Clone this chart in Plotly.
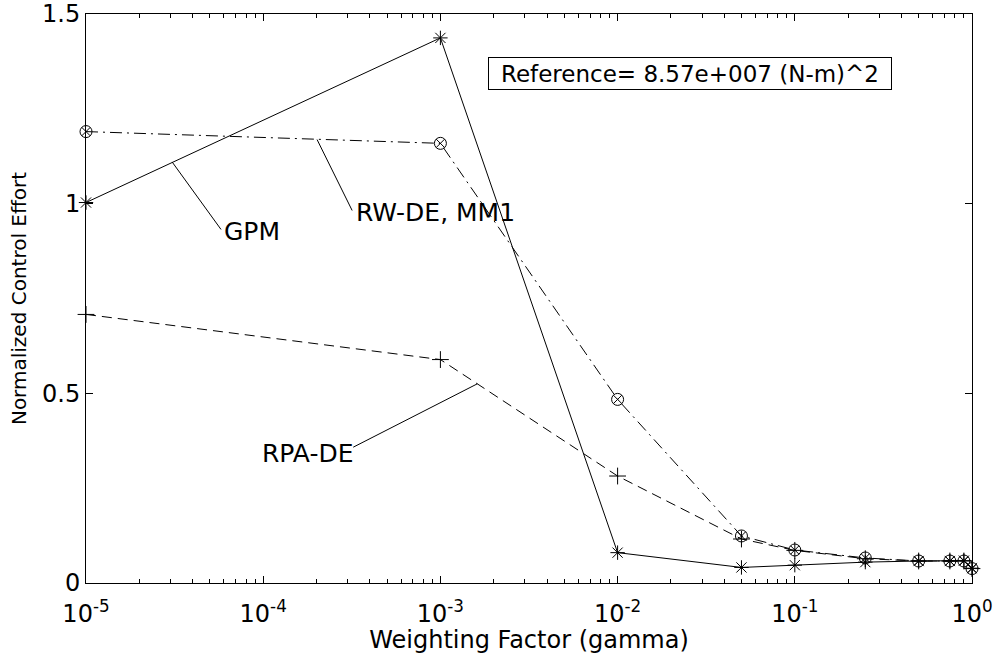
import plotly.graph_objects as go

# Weighting factor (gamma) values shared by all three methods
gamma = [1e-5, 1e-3, 1e-2, 0.05, 0.1, 0.25, 0.5, 0.75, 0.9, 1.0]

# Normalized control effort for each method
gpm = [1.003, 1.437, 0.080, 0.041, 0.047, 0.055, 0.058, 0.058, 0.059, 0.039]
rw_de_mm1 = [1.190, 1.159, 0.484, 0.124, 0.087, 0.066, 0.058, 0.058, 0.058, 0.038]
rpa_de = [0.708, 0.589, 0.282, 0.116, 0.086, 0.064, 0.058, 0.058, 0.058, 0.038]

x_tick_vals = [1e-5, 1e-4, 1e-3, 1e-2, 1e-1, 1e0]
x_tick_text = ["10<sup>-5</sup>", "10<sup>-4</sup>", "10<sup>-3</sup>",
               "10<sup>-2</sup>", "10<sup>-1</sup>", "10<sup>0</sup>"]
y_tick_vals = [0, 0.5, 1, 1.5]
y_tick_text = ["0", "0.5", "1", "1.5"]

reference_text = "Reference= 8.57e+007 (N-m)^2"

FONT = "DejaVu Sans"
BLACK = "black"

fig = go.Figure()

fig.add_trace(go.Scatter(
    x=gamma, y=gpm, name="GPM", mode="lines+markers",
    line=dict(color=BLACK, width=1),
    marker=dict(symbol="asterisk-open", size=12, color=BLACK,
                line=dict(color=BLACK, width=1)),
    cliponaxis=False,
))
fig.add_trace(go.Scatter(
    x=gamma, y=rw_de_mm1, name="RW-DE, MM1", mode="lines+markers",
    line=dict(color=BLACK, width=1, dash="12px,5px,2px,5px"),
    marker=dict(symbol="circle-x-open", size=12, color=BLACK,
                line=dict(color=BLACK, width=1)),
    cliponaxis=False,
))
fig.add_trace(go.Scatter(
    x=gamma, y=rpa_de, name="RPA-DE", mode="lines+markers",
    line=dict(color=BLACK, width=1, dash="10px,6px"),
    marker=dict(symbol="cross-thin-open", size=12, color=BLACK,
                line=dict(color=BLACK, width=1)),
    cliponaxis=False,
))

# Leader lines from each curve to its label (x given as log10 gamma)
leaders = [
    ((-4.514, 1.110), (-4.238, 0.932)),   # GPM
    ((-3.696, 1.169), (-3.498, 0.982)),   # RW-DE, MM1
    ((-2.792, 0.525), (-3.492, 0.358)),   # RPA-DE
]
for (lx0, y0), (lx1, y1) in leaders:
    fig.add_trace(go.Scatter(
        x=[10 ** lx0, 10 ** lx1], y=[y0, y1], mode="lines",
        line=dict(color=BLACK, width=1), hoverinfo="skip",
        showlegend=False,
    ))

# Curve labels: (text, log10 gamma, y, horizontal anchor)
labels = [
    ("GPM", -4.2325, 0.926, "left"),
    ("RW-DE, MM1", -3.4876, 0.976, "left"),
    ("RPA-DE", -3.480, 0.342, "right"),
]
annotations = [
    dict(text=t, x=lx, y=y, xref="x", yref="y", xanchor=xa,
         yanchor="middle", showarrow=False,
         font=dict(family=FONT, size=25, color=BLACK))
    for t, lx, y, xa in labels
]
annotations.append(dict(
    text=reference_text, xref="paper", yref="paper", x=0.6814, y=0.8954,
    xanchor="center", yanchor="middle", showarrow=False,
    width=400, height=29, borderpad=1, borderwidth=1, bordercolor=BLACK,
    bgcolor="white", font=dict(family=FONT, size=23, color=BLACK),
))

minor_vals = [k * 10.0 ** e for e in range(-5, 0) for k in range(2, 10)]

fig.update_layout(
    template="none",
    width=997, height=654,
    margin=dict(l=86, r=25, t=14, b=71, autoexpand=False),
    paper_bgcolor="white", plot_bgcolor="white",
    showlegend=False,
    font=dict(family=FONT, color=BLACK, size=23),
    annotations=annotations,
    xaxis=dict(
        type="log", range=[-5, 0], autorange=False, automargin=False,
        tickmode="array", tickvals=x_tick_vals, ticktext=x_tick_text,
        ticks="inside", ticklen=7, tickwidth=1, tickcolor=BLACK,
        minor=dict(tickmode="array", tickvals=minor_vals, ticks="inside",
                   ticklen=4, tickwidth=1, tickcolor=BLACK, showgrid=False),
        showline=True, linecolor=BLACK, linewidth=1, mirror="ticks",
        showgrid=False, zeroline=False, ticklabelstandoff=9,
        tickfont=dict(family=FONT, size=24, color=BLACK),
        title=dict(text="Weighting Factor (gamma)", standoff=2,
                   font=dict(family=FONT, size=24, color=BLACK)),
    ),
    yaxis=dict(
        range=[0, 1.5], autorange=False, automargin=False,
        tickmode="array", tickvals=y_tick_vals, ticktext=y_tick_text,
        ticks="inside", ticklen=7, tickwidth=1, tickcolor=BLACK,
        showline=True, linecolor=BLACK, linewidth=1, mirror="ticks",
        showgrid=False, zeroline=False,
        tickfont=dict(family=FONT, size=24, color=BLACK),
        title=dict(text="Normalized Control Effort", standoff=10,
                   font=dict(family=FONT, size=20, color=BLACK)),
    ),
)

fig.write_html("out.html")
